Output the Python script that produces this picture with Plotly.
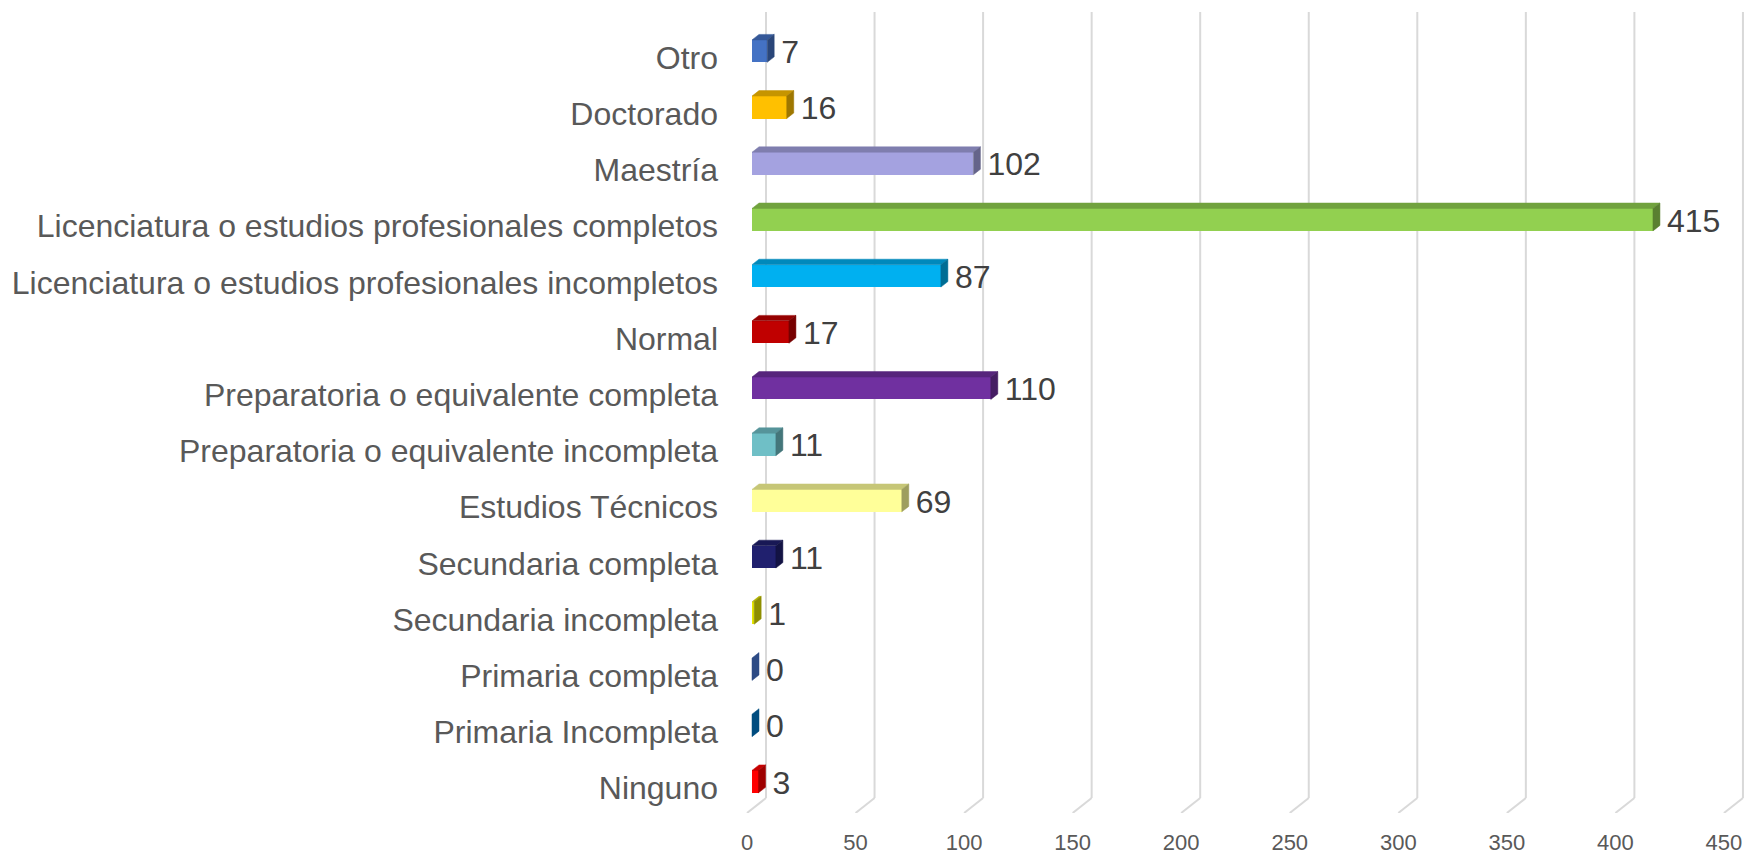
import plotly.graph_objects as go

# ---- data (bottom to top) ----
categories = [
    "Ninguno", "Primaria Incompleta", "Primaria completa", "Secundaria incompleta",
    "Secundaria completa", "Estudios Técnicos", "Preparatoria o equivalente incompleta",
    "Preparatoria o equivalente completa", "Normal",
    "Licenciatura o estudios profesionales incompletos",
    "Licenciatura o estudios profesionales completos", "Maestría", "Doctorado", "Otro",
]
values = [3, 0, 0, 1, 11, 69, 11, 110, 17, 87, 415, 102, 16, 7]
colors = [
    "#FF0000", "#007BCE", "#4A7AD8", "#E6E600", "#20206E", "#FFFF99", "#6FBFC6",
    "#7030A0", "#C00000", "#00B0F0", "#92D050", "#A4A2E0", "#FFC000", "#4472C4",
]
x_ticks = [0, 50, 100, 150, 200, 250, 300, 350, 400, 450]

# ---- geometry (pixel scales) ----
W, H = 1746, 855
SX = 2.171            # px per value unit
X0PX = 747            # pixel of value 0 (floor front)
SY = 56.4             # px per category
Y0PX = 791.0          # pixel of first category (floor front)
PLOT_L, PLOT_R = 736, W
PLOT_T, PLOT_B = 0, 816

def ux(px):
    return px / SX

def uy(px):
    return px / SY

xrange_ = [(PLOT_L - X0PX) / SX, (PLOT_R - X0PX) / SX]
yrange_ = [(Y0PX - PLOT_B) / SY, (Y0PX - PLOT_T) / SY]

bar_base = ux(5)
bar_yoff = uy(6.5)
bar_h = uy(22.5)
dx, dy = ux(7), uy(5.5)


def shade(hexc, f):
    h = hexc.lstrip("#")
    r, g, b = (int(h[i:i + 2], 16) for i in (0, 2, 4))
    return "#%02X%02X%02X" % (int(r * f), int(g * f), int(b * f))


fig = go.Figure()

# 3D gridlines (back wall + floor foot) as shapes below
gdx, gdy_b, gdy_t = ux(19), (Y0PX - 801) / SY, (Y0PX - 12) / SY
foot_y = yrange_[0]
for v in x_ticks:
    fig.add_shape(type="line", xref="x", yref="y", x0=v + gdx, x1=v + gdx,
                  y0=gdy_b, y1=gdy_t, line=dict(color="#D9D9D9", width=2), layer="below")
    fig.add_shape(type="line", xref="x", yref="y", x0=v, x1=v + gdx,
                  y0=foot_y, y1=gdy_b, line=dict(color="#D9D9D9", width=2), layer="below")

ypos = [i + bar_yoff for i in range(len(categories))]

# front faces
fig.add_trace(go.Bar(
    x=values, y=ypos, base=[bar_base] * len(values), orientation="h",
    width=bar_h, marker=dict(color=colors, line=dict(width=0)),
    hoverinfo="skip", showlegend=False,
))

# top and side faces
for i, (v, c) in enumerate(zip(values, colors)):
    yc = ypos[i]
    yt, yb = yc + bar_h / 2, yc - bar_h / 2
    x1 = bar_base + v
    if v > 0:
        fig.add_trace(go.Scatter(
            x=[bar_base, x1, x1 + dx, bar_base + dx, bar_base],
            y=[yt, yt, yt + dy, yt + dy, yt],
            fill="toself", fillcolor=shade(c, 0.78), mode="lines",
            line=dict(width=0.5, color=shade(c, 0.78)), hoverinfo="skip", showlegend=False))
    fig.add_trace(go.Scatter(
        x=[x1, x1 + dx, x1 + dx, x1, x1],
        y=[yb, yb + dy, yt + dy, yt, yb],
        fill="toself", fillcolor=shade(c, 0.62), mode="lines",
        line=dict(width=0.5, color=shade(c, 0.62)), hoverinfo="skip", showlegend=False))

# data labels
fig.add_trace(go.Scatter(
    x=[bar_base + v + ux(14) for v in values], y=[p - uy(4) for p in ypos],
    text=[str(v) for v in values], mode="text", textposition="middle right",
    textfont=dict(family="Liberation Sans, Arial", size=32, color="#404040"),
    hoverinfo="skip", showlegend=False, cliponaxis=False,
))

fig.update_layout(
    width=W, height=H,
    margin=dict(l=PLOT_L, r=W - PLOT_R, t=PLOT_T, b=H - PLOT_B, pad=0),
    paper_bgcolor="white", plot_bgcolor="white",
    bargap=0,
    xaxis=dict(range=xrange_, tickvals=x_ticks, ticktext=[str(t) for t in x_ticks],
               showgrid=False, zeroline=False, showline=False, ticks="",
               ticklabelstandoff=14,
               tickfont=dict(family="Liberation Sans, Arial", size=22, color="#595959")),
    yaxis=dict(range=yrange_, tickvals=list(range(len(categories))), ticktext=categories,
               showgrid=False, zeroline=False, showline=False, ticks="",
               ticklabelstandoff=17,
               tickfont=dict(family="Liberation Sans, Arial", size=32, color="#595959")),
)

fig.write_html("out.html", config={"displayModeBar": False},
               post_script="document.body.style.margin='0px';")
